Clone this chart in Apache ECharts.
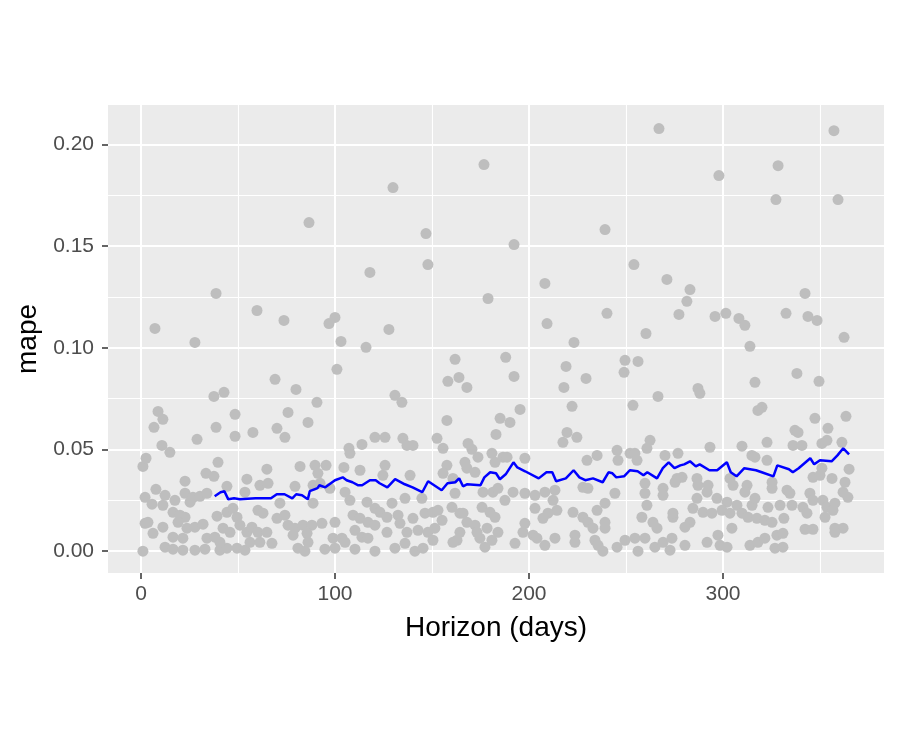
<!DOCTYPE html>
<html>
<head>
<meta charset="utf-8">
<script src="https://cdn.jsdelivr.net/npm/echarts@6/dist/echarts.min.js"></script>
<style>
html,body{margin:0;padding:0;background:#fff;}
#chart{width:900px;height:750px;}
</style>
</head>
<body>
<div id="chart"></div>
<script>
// Horizon (days) vs mape, individual cross-validation points
const scatterPoints = [
[1.0,0.0417],[2.6,0.0457],[7.2,0.1095],[6.7,0.0609],[8.8,0.0687],[11.3,0.0648],[10.8,0.052],[14.9,0.0486],[27.8,0.1026],[28.9,0.055],[38.7,0.1267],[37.6,0.0761],[42.8,0.0781],[38.7,0.0609],[39.7,0.0437],[48.5,0.0673],[48.5,0.0565],[59.8,0.1183],[57.7,0.0584],[69.1,0.0845],[73.7,0.1134],[70.1,0.0604],[75.8,0.0682],[74.2,0.056],[79.9,0.0795],[86.6,0.1615],[90.7,0.0732],[86.1,0.0633],[96.9,0.1119],[100,0.1149],[101,0.0894],[103.1,0.1031],[107.2,0.0506],[107.7,0.0481],[112.9,0.0398],[118,0.137],[116,0.1002],[113.9,0.0525],[120.6,0.056],[127.8,0.109],[129.9,0.1787],[130.9,0.0766],[134.5,0.0732],[135,0.0555],[137.1,0.052],[140.2,0.052],[125.8,0.056],[146.9,0.1561],[147.9,0.1409],[152.6,0.0555],[155.7,0.0506],[157.7,0.0643],[158.2,0.0835],[161.9,0.0943],[163.9,0.0854],[168,0.0805],[168.6,0.053],[170.6,0.0501],[173.7,0.0462],[176.8,0.19],[178.9,0.1242],[180.9,0.0481],[182.5,0.0437],[186.6,0.0462],[183,0.0574],[185.1,0.0653],[188,0.0953],[192.3,0.1507],[192.3,0.0859],[190.2,0.0633],[195.4,0.0697],[208.2,0.1316],[209.3,0.1119],[188.7,0.0462],[197.9,0.0457],[218,0.0805],[219.1,0.0908],[223.2,0.1026],[222.2,0.0712],[219.6,0.0584],[217.5,0.0535],[224.7,0.056],[229.4,0.0849],[239.2,0.1581],[240.2,0.1169],[229.9,0.0447],[235.1,0.0471],[245.4,0.0496],[245.9,0.0447],[252.1,0.0481],[249.5,0.0938],[249,0.0879],[253.6,0.0717],[254.1,0.1409],[256.2,0.0933],[260.3,0.107],[267,0.2077],[266.5,0.0761],[271.1,0.1336],[277.3,0.1164],[281.4,0.1228],[283,0.1286],[287.1,0.08],[288.1,0.0776],[262.4,0.0545],[260.8,0.0506],[254.6,0.0481],[255.7,0.0447],[270.1,0.0471],[276.8,0.0481],[293.3,0.0511],[309.8,0.0516],[314.9,0.0471],[295.9,0.1154],[297.9,0.1846],[301.5,0.1169],[308.2,0.1144],[311.3,0.111],[313.9,0.1007],[316.5,0.083],[320.1,0.0707],[318,0.0692],[322.7,0.0535],[328.4,0.1895],[327.3,0.1728],[332.5,0.1169],[338.1,0.0874],[337.1,0.0594],[338.7,0.0584],[342.3,0.1267],[343.8,0.1154],[348.5,0.1134],[349.5,0.0835],[347.4,0.0653],[336.1,0.052],[340.7,0.052],[351,0.053],[353.6,0.0545],[354.1,0.0604],[357.2,0.2067],[359.3,0.1728],[362.4,0.1051],[363.4,0.0663],[361.3,0.0535],[365,0.0403],[322.7,0.0447],[316.5,0.0462],
[33.5,0.0383],[37.6,0.0368],[54.6,0.0354],[22.7,0.0344],[44.3,0.0319],[7.7,0.0304],[2.1,0.0265],[5.7,0.0231],[12.4,0.0275],[11.3,0.0226],[17.5,0.025],[22.7,0.0285],[26.8,0.0265],[30.4,0.027],[34,0.0285],[25.3,0.0241],[53.6,0.029],[16.5,0.0191],[20.1,0.0177],[22.7,0.0167],[19.1,0.0142],[39.2,0.0172],[44.3,0.0191],[47.4,0.0211],[49.5,0.0167],[2.1,0.0137],[3.6,0.0142],[6.2,0.0088],[11.3,0.0118],[23.7,0.0113],[27.8,0.0118],[32,0.0133],[16.5,0.0069],[21.6,0.0064],[42.3,0.0113],[45.9,0.0093],[51,0.0128],[54.6,0.0093],[57.2,0.0118],[34,0.0064],[38.1,0.0069],[12.4,0.002],[16.5,0.001],[21.6,0.0005],[27.8,0.0005],[33,0.001],[1,0],[40.7,0.0005],[44.3,0.0015],[49.5,0.0015],[53.6,0.0005],[40.7,0.0044],[56.2,0.0044],
[64.9,0.0403],[82,0.0417],[89.7,0.0422],[95.4,0.0422],[104.6,0.0412],[91.2,0.0383],[97.4,0.0309],[61.3,0.0324],[65.5,0.0334],[79.4,0.0319],[88.7,0.0324],[92.3,0.0334],[105.2,0.029],[107.7,0.025],[88.7,0.0236],[60.3,0.0201],[62.9,0.0187],[71.6,0.0236],[70.1,0.0162],[74.2,0.0177],[116.5,0.0241],[120.6,0.0211],[109.3,0.0177],[112.9,0.0162],[117,0.0142],[120.6,0.0128],[75.8,0.0128],[79.4,0.0113],[83.5,0.0128],[88.1,0.0128],[93.3,0.0137],[100,0.0142],[60.3,0.0093],[64.9,0.0093],[78.4,0.0079],[85.6,0.0088],[86.1,0.0044],[67.5,0.0039],[61.3,0.0044],[110.3,0.0103],[113.9,0.0069],[117,0.0064],[99,0.0064],[103.6,0.0064],[105.2,0.0044],[80.9,0.0015],[84.5,0],[94.8,0.001],[100,0.0015],[110.3,0.001],[120.6,0],
[125.8,0.0422],[124.7,0.0373],[138.7,0.0373],[157.7,0.0422],[155.7,0.0383],[160.8,0.0358],[167,0.0437],[168,0.0408],[172.2,0.0388],[129.4,0.0236],[136.1,0.026],[144.8,0.026],[161.9,0.0285],[160.3,0.0216],[164.4,0.0187],[176.3,0.029],[181.4,0.029],[184,0.0309],[175.8,0.0216],[179.9,0.0191],[182.5,0.0167],[123.2,0.0191],[126.8,0.0167],[132.5,0.0177],[133.5,0.0137],[140.2,0.0162],[146.4,0.0187],[150.5,0.0191],[153.1,0.0201],[155.2,0.0152],[126.8,0.0093],[137.1,0.0093],[142.8,0.0103],[147.9,0.0093],[151.5,0.0113],[166,0.0187],[168,0.0142],[172.2,0.0128],[164.4,0.0093],[162.9,0.0054],[173.2,0.0093],[178.4,0.0113],[184,0.0093],[174.7,0.0064],[180.9,0.0054],[130.9,0.0015],[136.1,0.0039],[141.2,0],[145.4,0.0015],[150.5,0.0054],[160.8,0.0044],[177.3,0.002],
[191.8,0.029],[197.9,0.0285],[203.1,0.0275],[208.2,0.029],[213.4,0.03],[212.4,0.025],[214.4,0.0201],[209.8,0.0187],[207.2,0.0162],[203.1,0.0211],[187.6,0.025],[227.8,0.0314],[230.4,0.0309],[244.3,0.0285],[239.2,0.0236],[235.1,0.0201],[222.7,0.0191],[227.8,0.0167],[230.4,0.0142],[233,0.0113],[197.9,0.0137],[196.9,0.0093],[202.1,0.0079],[204.1,0.0064],[208.2,0.0029],[213.4,0.0064],[223.7,0.0079],[223.7,0.0044],[192.8,0.0039],[239.2,0.0142],[239.2,0.0113],[234,0.0054],[235.6,0.0029],[238.1,0],[245.4,0.002],[249.5,0.0054],
[259.8,0.0334],[259.8,0.0285],[269.1,0.0309],[269.1,0.0275],[276.3,0.0358],[278.9,0.0363],[275.3,0.0339],[286.6,0.0358],[287.1,0.0324],[292.3,0.0324],[291.8,0.029],[286.6,0.026],[284.5,0.0211],[303.6,0.0358],[305.2,0.0324],[312.4,0.0324],[311.3,0.029],[296.9,0.026],[302.1,0.0241],[307.2,0.0226],[299.5,0.0201],[303.6,0.0187],[309.8,0.0187],[312.9,0.0167],[315,0.0226],[260.8,0.0226],[258.2,0.0167],[263.9,0.0142],[266,0.0113],[274.2,0.0167],[274.2,0.0187],[283,0.0142],[280.4,0.0118],[289.7,0.0191],[294.3,0.0187],[254.6,0.0064],[259.8,0.0064],[264.9,0.002],[269.1,0.0044],[273.7,0.0064],[280.4,0.0029],[272.7,0.0005],[256.2,0],[291.8,0.0044],[297.4,0.0079],[298.5,0.0029],[302.1,0.002],[304.6,0.0113],[313.9,0.0029],
[362.9,0.0339],[361.9,0.029],[364.4,0.0265],[346.4,0.0363],[350,0.0373],[356.2,0.0358],[351,0.0408],[325.3,0.0339],[325.3,0.0309],[333,0.03],[334.5,0.0285],[344.8,0.0285],[346.4,0.025],[323.2,0.0216],[329.4,0.0226],[335.6,0.0226],[341.2,0.0216],[343.3,0.0187],[351.5,0.025],[353.6,0.0216],[357.7,0.0236],[356.7,0.0201],[352.6,0.0167],[316.5,0.026],[317.5,0.0162],[321.6,0.0152],[325.3,0.0142],[331.4,0.0162],[342.3,0.0108],[346.4,0.0108],[357.7,0.0113],[361.9,0.0113],[357.7,0.0093],[318,0.0044],[321.6,0.0064],[327.8,0.0079],[330.9,0.0088],[326.8,0.0015],[330.9,0.002]
];

// Rolling mean mape by horizon (blue line)
const rollingMape = [
[38,0.027],[41,0.029],[43,0.0295],[45,0.0255],[48,0.026],[51,0.0255],[59,0.026],[67,0.026],[70,0.028],[74,0.028],[78,0.026],[80,0.028],[83,0.0275],[86,0.0255],[87,0.0295],[91,0.031],[92,0.0324],[95,0.0314],[100,0.0349],[104,0.0363],[106,0.0349],[109,0.0339],[112,0.0324],[114,0.0324],[118,0.0349],[121,0.0349],[123,0.0334],[127,0.0314],[131,0.0354],[136,0.0329],[140,0.0314],[145,0.029],[148,0.0344],[155,0.03],[158,0.0334],[162,0.0339],[164,0.0358],[166,0.0319],[168,0.0329],[175,0.0324],[177,0.0363],[180,0.0388],[183,0.0383],[185,0.0354],[188,0.0378],[192,0.0437],[194,0.0412],[198,0.0393],[205,0.0358],[209,0.0388],[212,0.0388],[214,0.0344],[219,0.0358],[223,0.0398],[226,0.0363],[229,0.0349],[233,0.0358],[238,0.0339],[241,0.0388],[243,0.0383],[245,0.0363],[249,0.0368],[252,0.0398],[256,0.0393],[259,0.0373],[261,0.0388],[266,0.0358],[269,0.0408],[272,0.0437],[275,0.0408],[278,0.0422],[280,0.0427],[283,0.0442],[286,0.0417],[288,0.0427],[293,0.0398],[297,0.0398],[302,0.0437],[304,0.0388],[307,0.0368],[311,0.0408],[317,0.0398],[320,0.0388],[326,0.0368],[328,0.0422],[334,0.0403],[336,0.0388],[339,0.0408],[345,0.0457],[347,0.0427],[350,0.0447],[356,0.0442],[359,0.0471],[362,0.0506],[365,0.0476]
];

const xMajorTicks = [0, 100, 200, 300];
const xMinorTicks = [50, 150, 250, 350];
const yMajorTicks = [0, 0.05, 0.10, 0.15, 0.20];
const yMinorTicks = [0.025, 0.075, 0.125, 0.175];
const xRange = [-17, 383];
const yRange = [-0.0107, 0.2193];
const xTitle = 'Horizon (days)';
const yTitle = 'mape';

const FONT = '"Liberation Sans", Arial, Helvetica, sans-serif';

const chart = echarts.init(document.getElementById('chart'), null, {renderer: 'canvas'});

function majorAxis(range, ticks, name, fmt, isY) {
  return {
    type: 'value', min: range[0], max: range[1],
    name: name, nameLocation: 'middle',
    nameGap: isY ? 66 : 41,
    nameTextStyle: {color: '#000', fontSize: 28, fontFamily: FONT},
    axisLine: {show: false, onZero: false},
    axisTick: {show: true, length: 6, lineStyle: {color: '#333333', width: 1.5}, customValues: ticks},
    axisLabel: {show: true, color: '#4D4D4D', fontSize: 21, fontFamily: FONT, margin: isY ? 14 : 11,
                customValues: ticks, formatter: fmt},
    splitLine: {show: true, lineStyle: {color: '#FFFFFF', width: 2}},
    minorTick: {show: false}, minorSplitLine: {show: false},
    z: 2
  };
}
function minorAxis(range, ticks) {
  return {
    type: 'value', min: range[0], max: range[1],
    axisLine: {show: false, onZero: false},
    axisTick: {show: false, customValues: ticks},
    axisLabel: {show: false, customValues: ticks},
    splitLine: {show: true, lineStyle: {color: '#FFFFFF', width: 1.1}},
    z: 1
  };
}

chart.setOption({
  animation: false,
  backgroundColor: '#FFFFFF',
  grid: {left: 108, top: 105, right: 16, bottom: 177, show: true, backgroundColor: '#EBEBEB', borderWidth: 0},
  xAxis: [
    majorAxis(xRange, xMajorTicks, xTitle, v => String(v), false),
    minorAxis(xRange, xMinorTicks)
  ],
  yAxis: [
    majorAxis(yRange, yMajorTicks, yTitle, v => v.toFixed(2), true),
    minorAxis(yRange, yMinorTicks)
  ],
  series: [
    {
      type: 'scatter', xAxisIndex: 0, yAxisIndex: 0,
      data: scatterPoints, symbolSize: 11,
      itemStyle: {color: '#BEBEBE', opacity: 1},
      silent: true, z: 3
    },
    {
      type: 'line', xAxisIndex: 0, yAxisIndex: 0,
      data: rollingMape, showSymbol: false, smooth: false,
      lineStyle: {color: '#0000FF', width: 2.5},
      silent: true, z: 4
    }
  ]
});
</script>
</body>
</html>
